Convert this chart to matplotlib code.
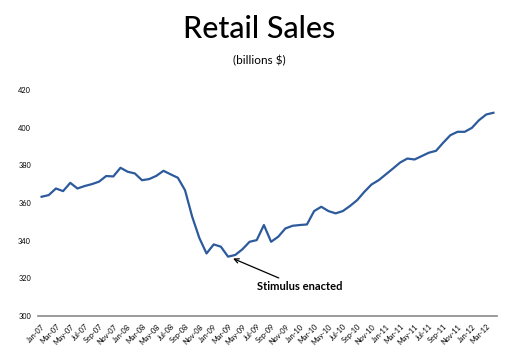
import numpy as np
import pandas as pd
import matplotlib
matplotlib.use("Agg")
import matplotlib.pyplot as plt

# Monthly retail sales, Jan-07 .. Apr-12 (billions $)
months = pd.date_range("2007-01-01", "2012-04-01", freq="MS")
sales = [363.3, 364.2, 367.7, 366.3, 370.7, 367.7, 369.0, 370.0, 371.3, 374.3, 374.1, 378.7,
         376.6, 375.7, 372.1, 372.7, 374.4, 377.1, 375.2, 373.4, 366.8, 352.7, 341.4, 333.2,
         338.0, 336.8, 331.5, 332.4, 335.4, 339.4, 340.3, 348.3, 339.4, 342.1, 346.5, 347.9,
         348.3, 348.6, 355.7, 358.0, 355.7, 354.5, 355.7, 358.4, 361.5, 365.9, 369.8, 372.1,
         375.2, 378.3, 381.5, 383.6, 383.1, 384.9, 386.7, 387.7, 392.0, 396.0, 397.8, 397.8,
         399.9, 404.0, 407.0, 407.9]
labels = [m.strftime("%b-%y") for m in months]
yticks = [300, 320, 340, 360, 380, 400, 420]

plt.rcParams["font.family"] = ["Lato", "DejaVu Sans"]

fig = plt.figure(figsize=(5.19, 3.61), dpi=100)
ax = fig.add_axes([0.0732, 0.1247, 0.8844, 0.626])

x = np.arange(len(sales))
ax.plot(x, sales, color="#2c5a9c", lw=1.6, solid_joinstyle="round")

ax.set_xlim(-0.5, len(sales) - 0.5)
ax.set_ylim(300, 420)
ax.set_yticks(yticks)
ax.set_yticklabels([str(v) for v in yticks], fontsize=5.3)
ax.set_xticks(x[::2])
ax.set_xticklabels(labels[::2], fontsize=5.3, rotation=45, ha="right", rotation_mode="anchor")
ax.tick_params(axis="both", length=0, pad=5)

for s in ["top", "right", "left"]:
    ax.spines[s].set_visible(False)
ax.spines["bottom"].set_color("#8a8a8a")
ax.spines["bottom"].set_linewidth(1.2)

# annotation at the Mar-09 low
i = labels.index("Mar-09")
ax.annotate("Stimulus enacted", xy=(i + 0.7, sales[i] - 1.0), xytext=(i + 4.0, 315.5),
            fontsize=8, fontweight="bold", va="center", ha="left",
            arrowprops=dict(arrowstyle="->", color="black", lw=0.9, shrinkA=1, shrinkB=0))

fig.text(0.5, 0.92, "Retail Sales", ha="center", va="center", fontsize=22, fontweight="medium")
fig.text(0.5, 0.833, "(billions $)", ha="center", va="center", fontsize=8.5)

fig.savefig("out.png", dpi=100)
